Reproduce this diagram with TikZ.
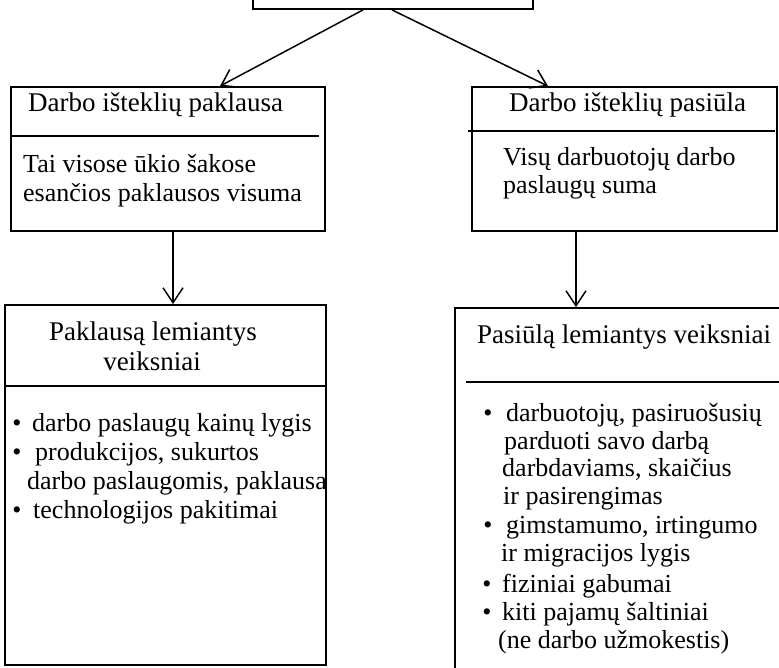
\documentclass[tikz,border=0pt]{standalone}
\usepackage{fontspec}
\setmainfont{Liberation Serif}
\usetikzlibrary{arrows.meta}

\begin{document}
\begin{tikzpicture}[x=1pt,y=-1pt,
    box/.style={draw,line width=1.8pt},
    rule/.style={line width=1.8pt},
    arr/.style={line width=1.5pt,-{Straight Barb[length=15pt,width=20pt]}},
    head/.style={anchor=base west,font=\fontsize{27}{30}\selectfont},
    txt/.style={anchor=base west,font=\fontsize{26}{28.5}\selectfont},
    dot/.style={anchor=base,font=\fontsize{26}{28.5}\selectfont}]
\tikzstyle{every node}+=[inner sep=0pt]
\useasboundingbox (0,0) rectangle (779,667);
\clip (0,0) rectangle (779,667);
% boxes
\node[box,minimum width=280pt,minimum height=49pt] (top) at (393,-15.5) {};
\node[box,minimum width=314pt,minimum height=144pt] (dem) at (168,159) {};
\node[box,minimum width=305pt,minimum height=144pt] (supl) at (624.5,159) {};
\node[box,minimum width=321pt,minimum height=360pt] (demf) at (165.5,485) {};
\node[box,minimum width=335pt,minimum height=412pt] (suplf) at (622.5,514) {};
\draw[rule] (10,136) -- (319,136);
\draw[rule] (468,131) -- (775,131);
\draw[rule] (6,386) -- (326,386);
\draw[rule] (466,382) -- (790,382);
% upper boxes
\node[head] (demh) at (28,111) {Darbo išteklių paklausa};
\node[txt] (dem1) at (23,172) {Tai visose ūkio šakose};
\node[txt] (dem2) at (23,201) {esančios paklausos visuma};
\node[head] (suplh) at (509,111) {Darbo išteklių pasiūla};
\node[txt] (supl1) at (503,165) {Visų darbuotojų darbo};
\node[txt] (supl2) at (503,193) {paslaugų suma};
% lower left box
\node[head,anchor=base] (demfh1) at (153,340) {Paklausą lemiantys};
\node[head,anchor=base] (demfh2) at (152,370) {veiksniai};
\node[dot] (d1) at (17,431) {\textbullet};
\node[txt] (demf1) at (32,431) {darbo paslaugų kainų lygis};
\node[dot] (d2) at (17,460) {\textbullet};
\node[txt] (demf2) at (35,460) {produkcijos, sukurtos};
\node[txt] (demf3) at (27,489) {darbo paslaugomis, paklausa};
\node[dot] (d3) at (17,518) {\textbullet};
\node[txt] (demf4) at (33,518) {technologijos pakitimai};
% lower right box
\node[head] (suplfh) at (477,343) {Pasiūlą lemiantys veiksniai};
\node[dot] (s1) at (488,421) {\textbullet};
\node[txt] (suplf1) at (506,421) {darbuotojų, pasiruošusių};
\node[txt] (suplf2) at (504,449) {parduoti savo darbą};
\node[txt] (suplf3) at (502,476) {darbdaviams, skaičius};
\node[txt] (suplf4) at (503,504) {ir pasirengimas};
\node[dot] (s2) at (488,533) {\textbullet};
\node[txt] (suplf5) at (506,533) {gimstamumo, irtingumo};
\node[txt] (suplf6) at (501,561) {ir migracijos lygis};
\node[dot] (s3) at (487,592) {\textbullet};
\node[txt] (suplf7) at (502,592) {fiziniai gabumai};
\node[dot] (s4) at (487,620) {\textbullet};
\node[txt] (suplf8) at (502,620) {kiti pajamų šaltiniai};
\node[txt] (suplf9) at (498,648) {(ne darbo užmokestis)};
% arrows
\draw[arr] ([xshift=-30pt]top.south) -- ([xshift=52pt]dem.north);
\draw[arr] ([xshift=-1pt]top.south) -- ([xshift=-76.5pt]supl.north);
\draw[arr] ([xshift=5pt]dem.south) -- ([xshift=5pt]dem.south |- demf.north);
\draw[arr] ([xshift=-48.5pt]supl.south) -- ([xshift=-48.5pt]supl.south |- suplf.north);
\end{tikzpicture}
\end{document}
